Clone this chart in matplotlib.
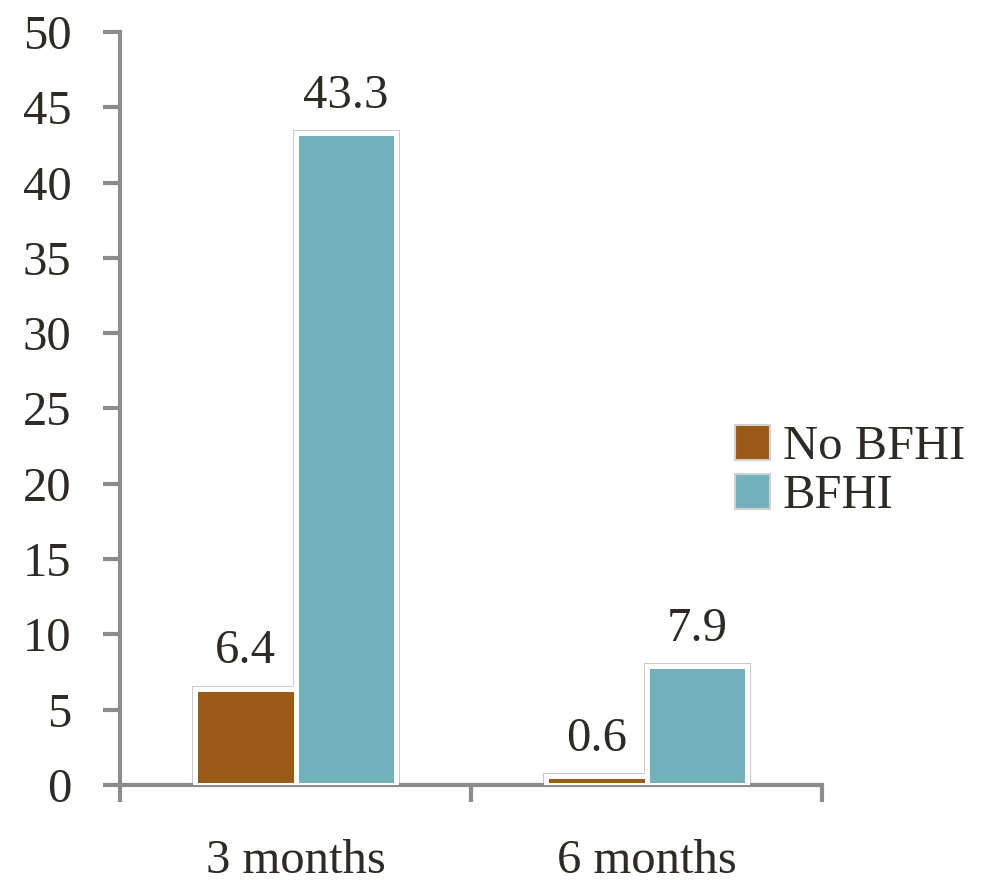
import matplotlib
matplotlib.use("Agg")
import matplotlib.pyplot as plt
import numpy as np

categories = ["3 months", "6 months"]
series_names = ["No BFHI", "BFHI"]
no_bfhi = [6.4, 0.6]
bfhi = [43.3, 7.9]
y_ticks = [0, 5, 10, 15, 20, 25, 30, 35, 40, 45, 50]

colors = ["#9A5A17", "#72B1BB"]
text_color = "#2E2A24"
spine_color = "#8C8C8C"
fs = 35

plt.rcParams["font.family"] = ["Liberation Serif", "DejaVu Serif"]

fig = plt.figure(figsize=(10.02, 8.82), dpi=100)
ax = fig.add_axes([0.1198, 0.110, 0.7006, 0.8537])

x = np.arange(len(categories))
width = 0.287
offsets = [-width / 2, width / 2]

for vals, off, col, name in zip([no_bfhi, bfhi], offsets, colors, series_names):
    # light grey outer rim, then a white frame, then the fill
    ax.bar(x + off, vals, width, facecolor="none", edgecolor="#C9C9C9",
           linewidth=5.0, zorder=2)
    bars = ax.bar(x + off, vals, width, color=col, edgecolor="white",
                  linewidth=3.6, zorder=3, label=name)
    for b, v in zip(bars, vals):
        ax.annotate(f"{v:.1f}", (b.get_x() + b.get_width() / 2, v),
                    xytext=(0, 11), textcoords="offset points",
                    ha="center", va="bottom", fontsize=fs, color=text_color)

ax.set_xlim(-0.5, 1.5)
ax.set_ylim(0, 50)
ax.set_yticks(y_ticks)
ax.set_yticklabels([str(t) for t in y_ticks])
ax.set_xticks(x)
ax.set_xticklabels(categories)
ax.set_xticks([-0.5, 0.5, 1.5], minor=True)

for side in ["top", "right"]:
    ax.spines[side].set_visible(False)
for side in ["left", "bottom"]:
    ax.spines[side].set_color(spine_color)
    ax.spines[side].set_linewidth(3)

ax.tick_params(axis="y", direction="out", length=12, width=3, color=spine_color,
               labelsize=fs, labelcolor=text_color, pad=23)
ax.tick_params(axis="x", which="major", length=0, labelsize=fs,
               labelcolor=text_color, pad=39)
ax.tick_params(axis="x", which="minor", direction="out", length=12, width=3,
               color=spine_color)

leg = ax.legend(loc="center left", bbox_to_anchor=(0.813, 0.416), frameon=False,
                fontsize=fs, handlelength=0.72, handleheight=0.72,
                handletextpad=0.27, labelspacing=0.1, labelcolor=text_color)
for h in leg.legend_handles:
    h.set_edgecolor("#D0D0D0")
    h.set_linewidth(1.5)

fig.savefig("out.png", dpi=100)
